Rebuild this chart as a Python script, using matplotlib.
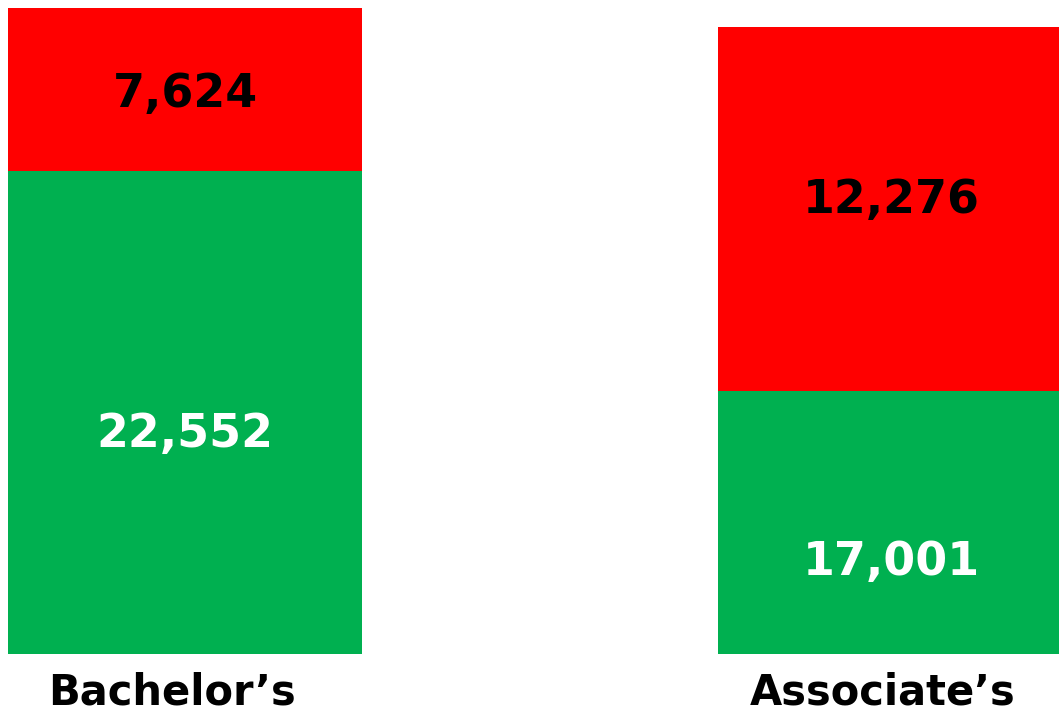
import matplotlib
matplotlib.use("Agg")
import matplotlib.pyplot as plt

categories = ["Bachelor\u2019s", "Associate\u2019s"]
green_values = [22552, 12276]
red_values = [7624, 17001]
green_labels = ["22,552", "17,001"]
red_labels = ["7,624", "12,276"]

GREEN = "#00B050"
RED = "#FF0000"

fig = plt.figure(figsize=(10.59, 7.15), dpi=100)
ax = fig.add_axes([0, 61 / 715, 1, 654 / 715])

x = [0, 1]
width = 0.4986
ax.bar(x, green_values, width=width, color=GREEN, edgecolor="none")
ax.bar(x, red_values, width=width, bottom=green_values, color=RED, edgecolor="none")

ax.set_xlim(-0.2606, 1.231)
ax.set_ylim(0, 30549)
ax.axis("off")

# label positions (fraction from the bottom of each segment)
green_frac = [0.454, 0.35]
red_frac = [0.467, 0.525]
text_dx = [0.0, -0.005]
cat_dx = [-0.018, -0.018]
for i in range(2):
    ax.text(x[i] + text_dx[i], green_values[i] * green_frac[i], green_labels[i], ha="center", va="center",
            color="white", fontsize=33, fontweight="bold", family="DejaVu Sans")
    ax.text(x[i] + text_dx[i], green_values[i] + red_values[i] * red_frac[i], red_labels[i], ha="center", va="center",
            color="black", fontsize=33, fontweight="bold", family="DejaVu Sans")
    ax.text(x[i] + cat_dx[i], -1780, categories[i], ha="center", va="center", color="black",
            fontsize=30, fontweight="bold", family="DejaVu Sans", clip_on=False)

fig.savefig("out.png", dpi=100)
